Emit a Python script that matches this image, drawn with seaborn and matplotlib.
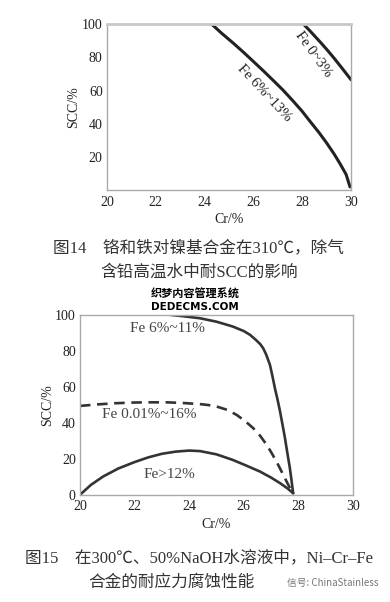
import matplotlib
matplotlib.use("Agg")
import matplotlib.pyplot as plt
import seaborn as sns
import pandas as pd

# ---- data: figure 14 ----
top_fe6_cr = [24.29, 24.7, 25.18, 25.6, 26.0, 26.4, 26.82, 27.2, 27.64, 28.0, 28.32, 28.7, 29.0, 29.3, 29.55, 29.8, 29.96]
top_fe6_scc = [100, 94.5, 88.5, 83.0, 77.5, 72.0, 66.0, 60.5, 53.5, 47.5, 41.5, 34.5, 28.5, 22.0, 16.0, 9.5, 2.0]
top_fe0_cr = [28.05, 28.3, 28.55, 28.8, 29.05, 29.3, 29.55, 29.8, 30.0]
top_fe0_scc = [100, 96.2, 92.2, 88.2, 84.0, 79.6, 75.0, 70.3, 66.5]
top_xticks = [20, 22, 24, 26, 28, 30]
top_yticks = [20, 40, 60, 80, 100]

# ---- data: figure 15 ----
bot_fe6_cr = [23.3, 23.8, 24.4, 25.0, 25.6, 26.0, 26.23, 26.45, 26.6, 26.71, 26.82, 26.96, 27.05, 27.14, 27.24, 27.33, 27.42, 27.51, 27.6, 27.69, 27.75, 27.81]
bot_fe6_scc = [100, 99.2, 98.1, 96.2, 93.5, 91.0, 88.9, 86.0, 83.8, 81.5, 78.0, 72.2, 66.0, 59.3, 52.8, 46.3, 39.0, 31.5, 23.0, 14.8, 8.0, 0.9]
bot_fe001_cr = [20.0, 20.6, 21.3, 22.0, 22.56, 23.2, 23.8, 24.4, 24.7, 25.0, 25.4, 25.74, 26.05, 26.35, 26.6, 26.84, 27.05, 27.26, 27.45, 27.63, 27.72, 27.81]
bot_fe001_scc = [49.4, 50.2, 50.9, 51.3, 51.4, 51.4, 51.0, 50.4, 49.9, 49.1, 47.2, 44.4, 41.0, 37.0, 32.8, 27.8, 22.5, 16.7, 11.0, 5.6, 3.0, 0.9]
bot_fe12_cr = [20.0, 20.4, 20.85, 21.4, 22.0, 22.5, 23.0, 23.5, 24.0, 24.4, 25.0, 25.6, 26.1, 26.6, 27.0, 27.33, 27.6, 27.81]
bot_fe12_scc = [0, 5.5, 10.2, 14.6, 18.2, 20.8, 22.8, 24.0, 24.6, 24.3, 22.5, 19.4, 16.2, 12.9, 9.6, 6.5, 3.6, 0.9]
bot_xticks = [20, 22, 24, 26, 28, 30]
bot_yticks = [0, 20, 40, 60, 80, 100]

sns.set_style("white")
plt.rcParams["font.family"] = ["Liberation Serif", "Noto Sans CJK SC", "DejaVu Sans"]

fig = plt.figure(figsize=(3.9, 6.02), dpi=100)
ax1 = fig.add_axes([0.274, 0.684, 0.626, 0.276])
ax2 = fig.add_axes([0.205, 0.178, 0.700, 0.299])

ink = "#222222"
spine_c = "#aaaaaa"

def style(ax, xt, yt, ylim):
    ax.set_xlim(20, 30)
    ax.set_ylim(*ylim)
    ax.set_xticks(xt)
    ax.set_yticks(yt)
    ax.tick_params(direction="in", length=3, width=0.8, color="#888888",
                   labelsize=10, labelcolor="#222222")
    ax.tick_params(axis="x", pad=4)
    ax.tick_params(axis="y", pad=3)
    for s in ax.spines.values():
        s.set_color(spine_c)
        s.set_linewidth(1.0)
    ax.set_xlabel("Cr/%", fontsize=10, color=ink, labelpad=3)
    ax.set_ylabel("SCC/%", fontsize=10, color=ink, labelpad=1)

d1 = pd.DataFrame({"cr": top_fe6_cr, "scc": top_fe6_scc})
d2 = pd.DataFrame({"cr": top_fe0_cr, "scc": top_fe0_scc})
sns.lineplot(data=d1, x="cr", y="scc", ax=ax1, color=ink, lw=2.2, sort=False)
sns.lineplot(data=d2, x="cr", y="scc", ax=ax1, color=ink, lw=2.2, sort=False)
style(ax1, top_xticks, top_yticks, (0, 100))
ax1.spines["top"].set_linewidth(2.0)
ax1.spines["top"].set_color("#c8c8c8")
ax1.text(26.43, 58.6, "Fe 6%~13%", rotation=-47, ha="center", va="center",
         fontsize=10.5, color=ink, rotation_mode="anchor")
ax1.text(28.46, 81.5, "Fe 0~3%", rotation=-54, ha="center", va="center",
         fontsize=10.5, color=ink, rotation_mode="anchor")

e1 = pd.DataFrame({"cr": bot_fe6_cr, "scc": bot_fe6_scc})
e2 = pd.DataFrame({"cr": bot_fe001_cr, "scc": bot_fe001_scc})
e3 = pd.DataFrame({"cr": bot_fe12_cr, "scc": bot_fe12_scc})
sns.lineplot(data=e1, x="cr", y="scc", ax=ax2, color="#333333", lw=1.9, sort=False)
sns.lineplot(data=e2, x="cr", y="scc", ax=ax2, color="#333333", lw=1.9, sort=False,
             linestyle=(0, (4, 2.5)))
sns.lineplot(data=e3, x="cr", y="scc", ax=ax2, color="#333333", lw=1.9, sort=False)
style(ax2, bot_xticks, bot_yticks, (0, 100))
ax2.text(23.2, 92.5, "Fe 6%~11%", ha="center", va="center", fontsize=11, color="#444444")
ax2.text(22.53, 44.4, "Fe 0.01%~16%", ha="center", va="center", fontsize=11, color="#444444")
ax2.text(23.27, 11.1, "Fe>12%", ha="center", va="center", fontsize=11, color="#444444")

capfam = ["Liberation Serif", "Noto Sans CJK SC", "DejaVu Sans"]
fig.text(0.51, 1 - 248 / 602, "图14    铬和铁对镍基合金在310℃，除气", ha="center", va="center",
         fontsize=12, color="#333333", family=capfam)
fig.text(0.51, 1 - 273 / 602, "含铅高温水中耐SCC的影响", ha="center", va="center",
         fontsize=12, color="#333333", family=capfam)
fig.text(0.50, 1 - 294 / 602, "织梦内容管理系统", ha="center", va="center",
         fontsize=8, color="black", weight="bold", family=["Noto Sans CJK SC"])
fig.text(0.50, 1 - 307 / 602, "DEDECMS.COM", ha="center", va="center",
         fontsize=7.5, color="black", weight="bold", family=["DejaVu Sans"])
fig.text(0.51, 1 - 558 / 602, "图15    在300℃、50%NaOH水溶液中，Ni–Cr–Fe", ha="center",
         va="center", fontsize=12, color="#333333", family=capfam)
fig.text(0.44, 1 - 583 / 602, "合金的耐应力腐蚀性能", ha="center", va="center",
         fontsize=12, color="#333333", family=capfam)
fig.text(0.97, 1 - 583 / 602, "信号: ChinaStainless", ha="right", va="center",
         fontsize=7, color="#777777", family=["Noto Sans CJK SC", "DejaVu Sans"])

fig.savefig("out.png", dpi=100)
